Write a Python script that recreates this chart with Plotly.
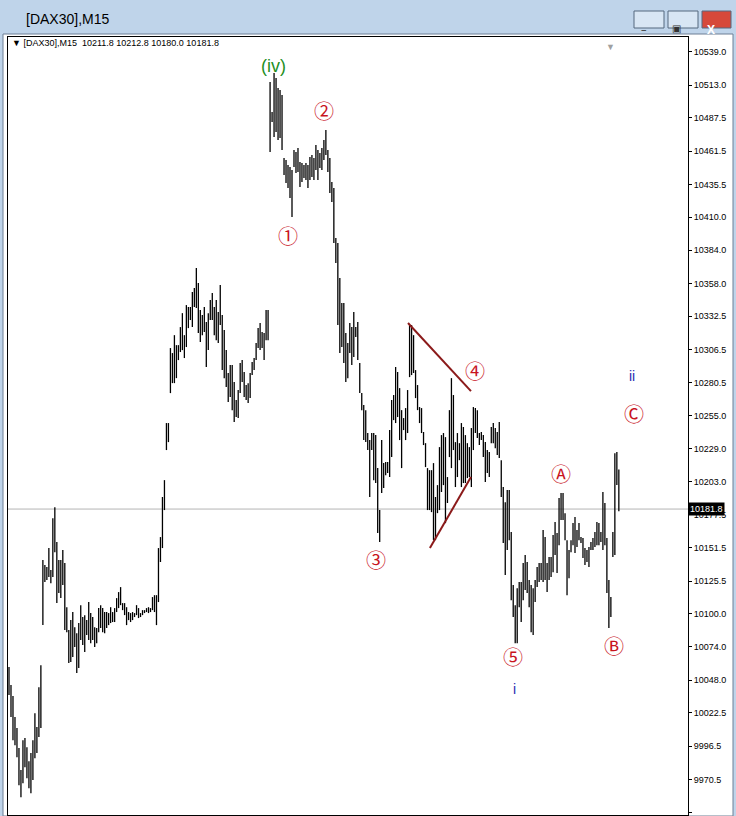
import plotly.graph_objects as go

highs = [10058.3,10044.2,10035.7,10019.2,10010.6,9995.0,9977.8,10001.2,10002.8,9995.7,9984.8,9991.1,10001.2,10022.3,10011.4,10042.6,10059.8,
10141.9,10138.0,10136.5,10151.3,10134.1,10174.7,10183.3,10156.0,10141.9,10141.9,10149.7,10139.6,10105.1,10087.2,10095.0,10101.3,10089.5,10084.8,10092.7,10106.7,10097.4,10098.9,10095.0,10109.1,10100.5,10097.4,10089.5,10088.8,10104.4,10106.7,10104.4,10101.3,10101.3,10100.5,10105.1,10101.3,10104.4,10112.2,10116.9,10120.8,10108.3,10108.3,10105.1,10101.3,10100.5,10101.3,10100.5,10106.7,10104.4,10100.5,10102.8,10102.8,10104.4,10105.1,10104.4,10113.0,10114.5,10114.5,10151.3,10159.9,10191.2,10204.4,
10249.0,10249.0,10307.6,10303.7,10317.7,10309.9,10309.9,10324.0,10334.9,10317.7,10341.2,10339.7,10339.7,10351.4,10354.5,10370.2,10358.4,10337.3,10333.4,10339.7,10327.9,10334.9,10345.1,10350.6,10339.7,10345.1,10335.7,10356.9,10333.4,10321.7,10306.0,10288.1,10294.3,10294.3,10281.0,10267.0,10274.8,10295.9,10298.2,10288.9,10278.7,10280.2,10288.1,10296.7,10299.8,10311.5,10323.2,10327.1,10320.1,10319.3,10337.3,10337.3,
10515.5,10492.1,10522.5,10518.6,10510.8,10509.3,10505.3,10456.1,10454.5,10450.6,10449.1,10446.7,10462.4,10460.8,10463.9,10453.0,10452.2,10450.6,10452.2,10450.6,10456.9,10458.5,10456.1,10466.3,10462.4,10460.0,10463.9,10470.2,10478.0,10462.4,10456.1,10437.3,10432.7,10393.6,10389.7,10362.3,10342.8,10342.8,10319.3,10311.5,10327.1,10324.0,10335.7,10324.0,10327.9,10295.9,10272.4,10263.1,10259.1,10241.2,10235.7,10241.2,10241.2,10239.6,10213.8,10181.0,
10235.7,10217.7,10218.5,10218.5,10243.5,10267.0,10270.9,10292.8,10288.9,10276.3,10259.1,10252.9,10260.7,10274.8,10325.6,10325.6,10317.7,10290.4,10278.7,10261.5,10260.7,10242.0,10233.3,10213.8,10212.2,10212.2,10217.7,10191.2,10200.5,10230.2,10239.6,10241.2,10238.0,10206.8,10259.1,10284.1,10270.9,10234.1,10241.2,10233.3,10249.0,10245.9,10239.6,10233.3,10230.2,10245.1,10261.5,10260.7,10259.1,10241.2,10242.0,10239.6,10234.1,10227.9,10226.3,10245.9,
10249.0,10245.1,10242.0,10249.8,10220.0,10199.0,10187.2,10196.6,10196.6,10163.8,10122.4,10106.7,10120.0,10124.7,10124.7,10139.6,10145.8,10140.4,10126.3,10122.4,10120.0,10126.3,10136.5,10139.6,10139.6,10165.4,10159.9,10139.6,10144.3,10144.3,10161.5,10171.6,10163.0,10190.4,10194.3,10194.3,10178.6,10157.5,10149.7,10157.5,10170.8,10175.5,10165.4,10170.8,10159.9,10159.1,10151.3,10149.7,10152.1,10156.0,10159.1,10163.8,10171.6,10170.8,10163.8,10195.1,10186.5,10159.1,10126.3,10113.0,10163.8,10225.5,10226.3,10212.8]

lows = [10036.4,10019.2,10001.2,9997.3,9987.9,9966.0,9956.6,9967.6,9980.1,9971.5,9963.6,9959.7,9970.0,9987.1,9991.1,10003.6,10010.6,
10091.1,10124.7,10126.3,10128.6,10123.9,10128.6,10148.1,10108.3,10116.1,10112.2,10122.4,10087.2,10085.6,10061.4,10062.2,10066.1,10073.9,10053.6,10057.5,10079.4,10075.5,10070.0,10083.3,10079.4,10077.0,10079.4,10073.9,10077.0,10085.6,10088.8,10085.6,10084.8,10088.8,10091.1,10092.7,10093.5,10093.5,10101.3,10104.4,10106.7,10102.8,10098.9,10091.1,10095.0,10093.5,10095.0,10097.4,10098.9,10096.6,10097.4,10098.9,10100.5,10101.3,10100.5,10101.3,10102.8,10101.3,10091.1,10109.1,10140.4,10151.3,10181.0,
10227.9,10234.1,10272.4,10280.2,10280.2,10284.1,10298.2,10304.5,10306.0,10299.8,10308.4,10323.2,10329.5,10324.0,10339.7,10338.9,10319.3,10312.3,10317.7,10320.1,10292.8,10306.0,10329.5,10329.5,10317.7,10313.8,10311.5,10325.6,10290.4,10284.1,10277.1,10265.4,10269.3,10259.1,10249.8,10253.7,10252.9,10272.4,10281.0,10269.3,10267.0,10264.6,10268.5,10286.5,10290.4,10298.2,10307.6,10306.0,10307.6,10298.2,10313.8,10313.8,
10460.8,10484.2,10472.5,10476.4,10470.2,10471.7,10462.4,10442.8,10436.6,10432.7,10424.8,10410.0,10449.1,10444.4,10445.2,10433.4,10437.3,10440.5,10438.9,10432.7,10438.9,10441.3,10438.9,10446.7,10438.9,10448.3,10446.7,10454.5,10458.5,10445.2,10428.8,10421.7,10389.7,10374.0,10325.6,10303.7,10308.4,10295.9,10281.0,10284.1,10303.7,10294.3,10300.6,10316.2,10298.2,10272.4,10259.1,10235.7,10234.1,10227.9,10191.2,10227.9,10204.4,10202.1,10163.0,10156.0,
10194.3,10198.2,10208.3,10209.9,10206.8,10222.4,10251.3,10249.0,10253.7,10235.7,10213.8,10243.5,10235.7,10241.2,10284.9,10286.5,10288.1,10268.5,10259.1,10249.0,10241.2,10231.8,10214.6,10181.0,10181.0,10179.4,10157.5,10157.5,10178.6,10181.0,10195.1,10200.5,10170.8,10186.5,10222.4,10213.8,10227.9,10199.0,10206.8,10220.0,10199.0,10202.1,10202.1,10206.0,10206.8,10199.0,10227.9,10241.2,10237.3,10231.8,10235.7,10222.4,10202.9,10209.9,10206.8,10233.3,
10233.3,10229.4,10224.0,10221.6,10191.2,10155.2,10130.2,10149.7,10157.5,10110.6,10097.4,10077.0,10077.0,10105.1,10093.5,10110.6,10118.5,10116.1,10105.1,10085.6,10083.3,10109.1,10120.8,10124.7,10126.3,10124.7,10126.3,10116.9,10126.3,10128.6,10132.5,10145.8,10131.8,10153.6,10173.2,10173.2,10157.5,10114.5,10127.8,10148.1,10153.6,10147.4,10152.1,10157.5,10155.2,10143.5,10138.0,10140.4,10136.5,10149.7,10149.7,10152.1,10153.6,10153.6,10156.0,10149.7,10153.6,10116.1,10088.8,10097.4,10144.3,10145.8,10200.5,10180.0]

tick_vals = [10539.0,10513.0,10487.5,10461.5,10435.5,10410.0,10384.0,10358.0,10332.5,10306.5,10280.5,10255.0,10229.0,
             10203.0,10177.5,10151.5,10125.5,10100.0,10074.0,10048.0,10022.5,9996.5,9970.5,9945.0]
last_price = 10181.8

label_text = ["(iv)", "\u2460", "\u2461", "\u2462", "\u2463", "\u2464", "\u24b6", "\u24b7", "\u24b8", "i", "ii"]
label_x = [132.5, 140, 158, 184, 234, 253, 277, 303.5, 313.6, 253.4, 312.6]
label_y = [10528, 10395.2, 10492.9, 10142.7, 10289.7, 10066.9, 10209.2, 10075.5, 10256.1, 10041, 10285.8]
label_col = ["#1f8f1f"] + ["#c8141e"] * 8 + ["#2a2ab0"] * 2

tri_lines = [(200.2, 10327.2, 231.8, 10274.0), (211.2, 10151.3, 231.8, 10206.8)]

n = len(highs)
xs, ys = [], []
for i, (h, l) in enumerate(zip(highs, lows)):
    xs += [i, i, None]
    ys += [l, h, None]
fig = go.Figure(go.Scatter(x=xs, y=ys, mode="lines", line=dict(color="black", width=1.3),
                           hoverinfo="skip", connectgaps=False))

W, H = 736, 816
L, R, T, B = 8, 48, 37, 1
pw, ph = W - L - R, H - T - B
def px(x): return (x - L) / pw
def py(y): return (H - B - y) / ph

shapes = [
    dict(type="rect", xref="paper", yref="paper", x0=px(3), x1=px(733), y0=py(816), y1=py(34),
         fillcolor="white", line=dict(color="#6d7f95", width=1), layer="below"),
    dict(type="line", xref="paper", yref="y", x0=0, x1=1, y0=last_price, y1=last_price,
         line=dict(color="#b4b4b4", width=1), layer="below"),
]
for (x0, y0, x1, y1) in tri_lines:
    shapes.append(dict(type="line", xref="x", yref="y", x0=x0, y0=y0, x1=x1, y1=y1,
                       line=dict(color="#8b1a1a", width=2)))
for (a, b, c) in [(634, 664, "#d8e6f4"), (668, 698, "#d8e6f4"), (702, 731, "#d6493a")]:
    shapes.append(dict(type="rect", xref="paper", yref="paper", x0=px(a), x1=px(b), y0=py(28), y1=py(11),
                       fillcolor=c, line=dict(color="#55687f", width=1)))

annotations = []
for t, x, y, c in zip(label_text, label_x, label_y, label_col):
    big = t not in ("i", "ii")
    annotations.append(dict(x=x, y=y, xref="x", yref="y", text=t, showarrow=False,
                            font=dict(color=c, size=(18 if t == "(iv)" else 20) if big else 14,
                                      family="Noto Sans CJK JP" if big and t != "(iv)" else "Liberation Sans")))
annotations += [
    dict(x=1.0, y=last_price, xref="paper", yref="y", xanchor="left", text="10181.8", showarrow=False,
         bgcolor="black", font=dict(color="white", size=9, family="Liberation Sans"), borderpad=1),
    dict(x=px(10), y=py(43), xref="paper", yref="paper", xanchor="left", yanchor="middle", showarrow=False,
         text="\u25bc [DAX30],M15  10211.8 10212.8 10180.0 10181.8",
         font=dict(size=9, color="black", family="Liberation Sans")),
    dict(x=px(24), y=py(19), xref="paper", yref="paper", xanchor="left", yanchor="middle", showarrow=False,
         text="[DAX30],M15", font=dict(size=14, color="black", family="Liberation Sans")),
    dict(x=px(617), y=py(38), xref="paper", yref="paper", yanchor="top", showarrow=False,
         text="\u25bc", font=dict(size=9, color="#a0a0a0")),
    dict(x=px(649), y=py(19.5), xref="paper", yref="paper", showarrow=False, text="\u2013", font=dict(size=11, color="#333")),
    dict(x=px(683), y=py(19.5), xref="paper", yref="paper", showarrow=False, text="\u25a3", font=dict(size=10, color="#333")),
    dict(x=px(716.5), y=py(19.5), xref="paper", yref="paper", showarrow=False, text="<b>X</b>", font=dict(size=12, color="white")),
]

fig.update_layout(
    width=W, height=H, margin=dict(l=L, r=R, t=T, b=B),
    paper_bgcolor="#bfd4ea", plot_bgcolor="white", showlegend=False,
    shapes=shapes, annotations=annotations,
    xaxis=dict(range=[-0.5, 340.7], showticklabels=False, showgrid=False, zeroline=False,
               showline=True, mirror=True, linecolor="black", linewidth=1, ticks=""),
    yaxis=dict(range=[9942.7, 10550.7], side="right", tickvals=tick_vals,
               ticktext=[f"{v:.1f}" for v in tick_vals], showgrid=False, zeroline=False,
               showline=True, mirror=True, linecolor="black", linewidth=1,
               ticks="outside", ticklen=3, tickcolor="black",
               tickfont=dict(size=9, color="black", family="Liberation Sans")),
)
fig.write_html("out.html", config={"displayModeBar": False},
               post_script="document.body.style.margin='0';document.body.style.overflow='hidden';")
